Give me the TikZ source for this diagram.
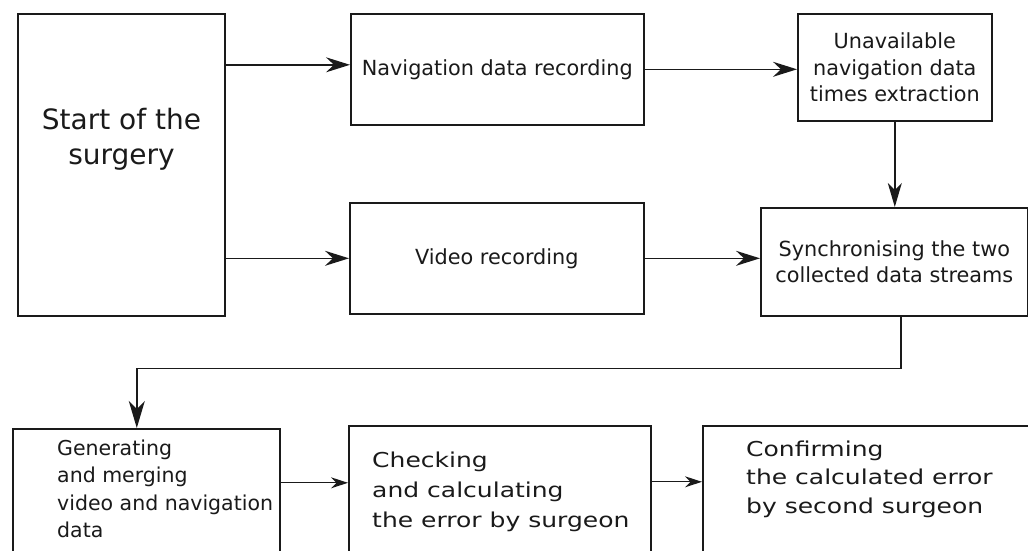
\documentclass[tikz,border=0pt]{standalone}
\usepackage{fontspec}
\setmainfont{DejaVu Sans}
\newfontfamily\widefont[FakeStretch=1.22]{DejaVu Sans}
\usetikzlibrary{arrows.meta,calc}
\definecolor{ink}{HTML}{1A1A1A}
\tikzset{
  boxnode/.style={draw=ink, line width=1.6pt, fill=white, rectangle, anchor=north west,
    inner sep=0pt, align=center, text=ink, font=\fontsize{20.8}{26.5}\selectfont},
  conn/.style={draw=ink, line width=1.4pt, -{Stealth[length=24pt,width=15pt,inset=8pt]}},
  connsmall/.style={draw=ink, line width=1.3pt, -{Stealth[length=17pt,width=11pt,inset=5.5pt]}},
  txt/.style={anchor=north west, inner sep=0pt, align=left, text=ink}
}
\begin{document}
\begin{tikzpicture}[x=1pt,y=-1pt]
\useasboundingbox (0,0) rectangle (1028,550);
\clip (0,0) rectangle (1028,550);
\fill[white] (0,0) rectangle (1028,550);
% top row
\node[boxnode, minimum width=207pt, minimum height=302pt] (start) at (17,13) {};
\node[anchor=north, inner sep=0pt, align=center, text=ink,
  font=\fontsize{28}{35}\selectfont] (startt) at (121.5,107.7) {Start of the\\surgery};
\node[boxnode, minimum width=293pt, minimum height=111pt] (nav) at (350,13) {Navigation data recording};
\node[boxnode, minimum width=194pt, minimum height=107pt] (unav) at (797,13)
  {Unavailable\\navigation data\\times extraction};
\node[boxnode, minimum width=294pt, minimum height=111pt] (video) at (349,202) {Video recording};
\node[boxnode, minimum width=267pt, minimum height=108pt, font=\fontsize{20.8}{26}\selectfont] (sync) at (760,207)
  {Synchronising the two\\collected data streams};
% bottom row
\node[boxnode, minimum width=267pt, minimum height=150pt] (gen) at (12,428) {};
\node[boxnode, minimum width=302pt, minimum height=150pt] (chk) at (348,425) {};
\node[boxnode, minimum width=340pt, minimum height=150pt] (cnf) at (702,425) {};
\node[txt, font=\fontsize{20.5}{27.5}\selectfont] (gent) at (57,439.4)
  {Generating\\and merging\\video and navigation\\data};
\node[txt, font=\widefont\fontsize{20.5}{30}\selectfont] (chkt) at (372,451.4)
  {Checking\\and calculating\\the error by surgeon};
\node[txt, font=\widefont\fontsize{20.5}{28.5}\selectfont] (cnft) at (746,440.4)
  {Confirming\\the calculated error\\by second surgeon};
% connectors
\coordinate (n1) at ([yshift=4.5pt]nav.west);
\draw[conn] (start.east |- n1) -- (n1);
\draw[conn] (start.east |- video.west) -- (video.west);
\draw[conn] (nav.east) -- (unav.west |- nav.east);
\draw[conn] (video.east) -- (sync.west |- video.east);
\draw[conn, -{Stealth[length=24pt,width=14pt,inset=7pt]}] (unav.south) -- (sync.north -| unav.south);
\coordinate (g1) at ([xshift=-9.5pt]gen.north);
\draw[conn, -{Stealth[length=27pt,width=16pt,inset=8pt]}] ([xshift=6.5pt]sync.south) -- ++(0,52) -| (g1);
\coordinate (g2) at ([yshift=21pt]gen.east);
\draw[connsmall] (g2) -- (chk.west |- g2);
\coordinate (c2) at ([yshift=19pt]chk.east);
\draw[connsmall] (c2) -- (cnf.west |- c2);
\end{tikzpicture}
\end{document}
